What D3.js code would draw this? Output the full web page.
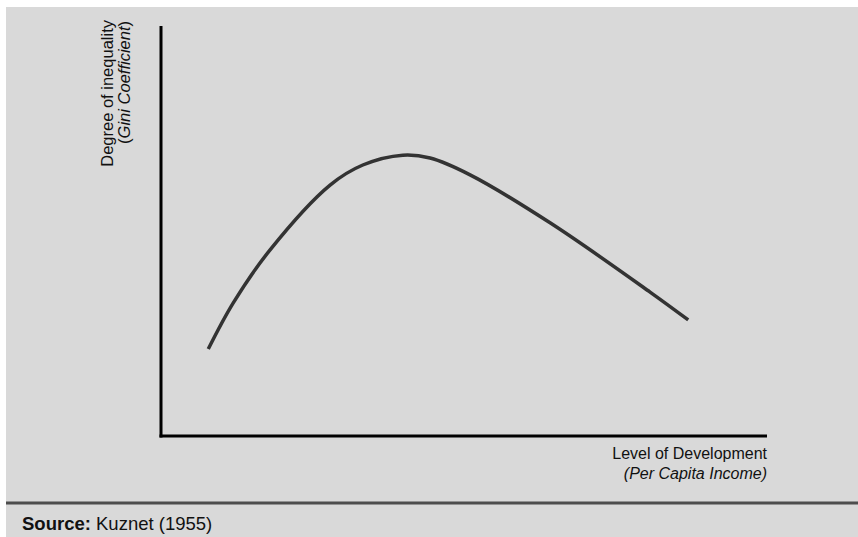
<!DOCTYPE html>
<html>
<head>
<meta charset="utf-8">
<script src="https://d3js.org/d3.v7.min.js"></script>
<style>
  body { margin: 0; background: #fff; }
  svg { display: block; font-family: "Liberation Sans", Arial, sans-serif; }
</style>
</head>
<body>
<svg id="chart" width="858" height="537"></svg>
<script>
// Kuznets curve (x: income 0-100, y: inequality 0-100)
const incomeLevels = [7.8, 11.9, 18.0, 27.9, 33.3, 39.9, 44.4, 51.0, 64.2, 80.7, 87.0];
const inequality   = [21.2, 32.4, 45.4, 61.2, 66.1, 68.5, 67.8, 63.7, 52.0, 35.1, 28.3];
const yLabelLines = ['Degree of inequality', 'Gini Coefficient'];
const xLabelLines = ['Level of Development', '(Per Capita Income)'];
const sourceLabel = ['Source:', 'Kuznet (1955)'];

const svg = d3.select('#chart');

// grey panel
svg.append('rect')
   .attr('x', 6).attr('y', 7)
   .attr('width', 852).attr('height', 530)
   .attr('fill', '#d9d9d9');

let x = d3.scaleLinear().domain([0, 100]).range([161, 767]);
let y = d3.scaleLinear().domain([0, 100]).range([436, 26]);

// axes: plain lines, no ticks
svg.append('line')
   .attr('x1', x(0)).attr('x2', x(0))
   .attr('y1', y(100)).attr('y2', y(0) + 1.5)
   .attr('stroke', '#000').attr('stroke-width', 3);

svg.append('line')
   .attr('x1', x(0) - 1.5).attr('x2', x(100))
   .attr('y1', y(0)).attr('y2', y(0))
   .attr('stroke', '#000').attr('stroke-width', 3);

let points = incomeLevels.map((d, i) => [d, inequality[i]]);

let line = d3.line()
             .x(d => x(d[0]))
             .y(d => y(d[1]))
             .curve(d3.curveCatmullRom.alpha(0.5));

svg.append('path')
   .datum(points)
   .attr('d', line)
   .attr('fill', 'none')
   .attr('stroke', '#333')
   .attr('stroke-width', 3.5);

// y label (rotated)
let yLab = svg.append('g')
              .attr('transform', 'translate(113,20) rotate(-90)')
              .attr('font-size', 16.5)
              .attr('fill', '#111');

yLab.append('text')
    .attr('text-anchor', 'end')
    .text(yLabelLines[0]);

let yLab2 = yLab.append('text')
                .attr('x', -1)
                .attr('y', 17)
                .attr('text-anchor', 'end');
yLab2.append('tspan').text('(');
yLab2.append('tspan').attr('font-style', 'italic').text(yLabelLines[1]);
yLab2.append('tspan').text(')');

// x label
svg.append('text')
   .attr('x', 767).attr('y', 459)
   .attr('text-anchor', 'end')
   .attr('font-size', 16)
   .attr('fill', '#111')
   .text(xLabelLines[0]);

svg.append('text')
   .attr('x', 767).attr('y', 479)
   .attr('text-anchor', 'end')
   .attr('font-size', 16)
   .attr('font-style', 'italic')
   .attr('fill', '#111')
   .text(xLabelLines[1]);

// separator + source
svg.append('line')
   .attr('x1', 6).attr('x2', 858)
   .attr('y1', 503).attr('y2', 503)
   .attr('stroke', '#4d4d4d').attr('stroke-width', 3);

let src = svg.append('text')
             .attr('x', 22).attr('y', 530)
             .attr('font-size', 18.5)
             .attr('fill', '#111');
src.append('tspan').attr('font-weight', 'bold').text(sourceLabel[0] + ' ');
src.append('tspan').text(sourceLabel[1]);
</script>
</body>
</html>
